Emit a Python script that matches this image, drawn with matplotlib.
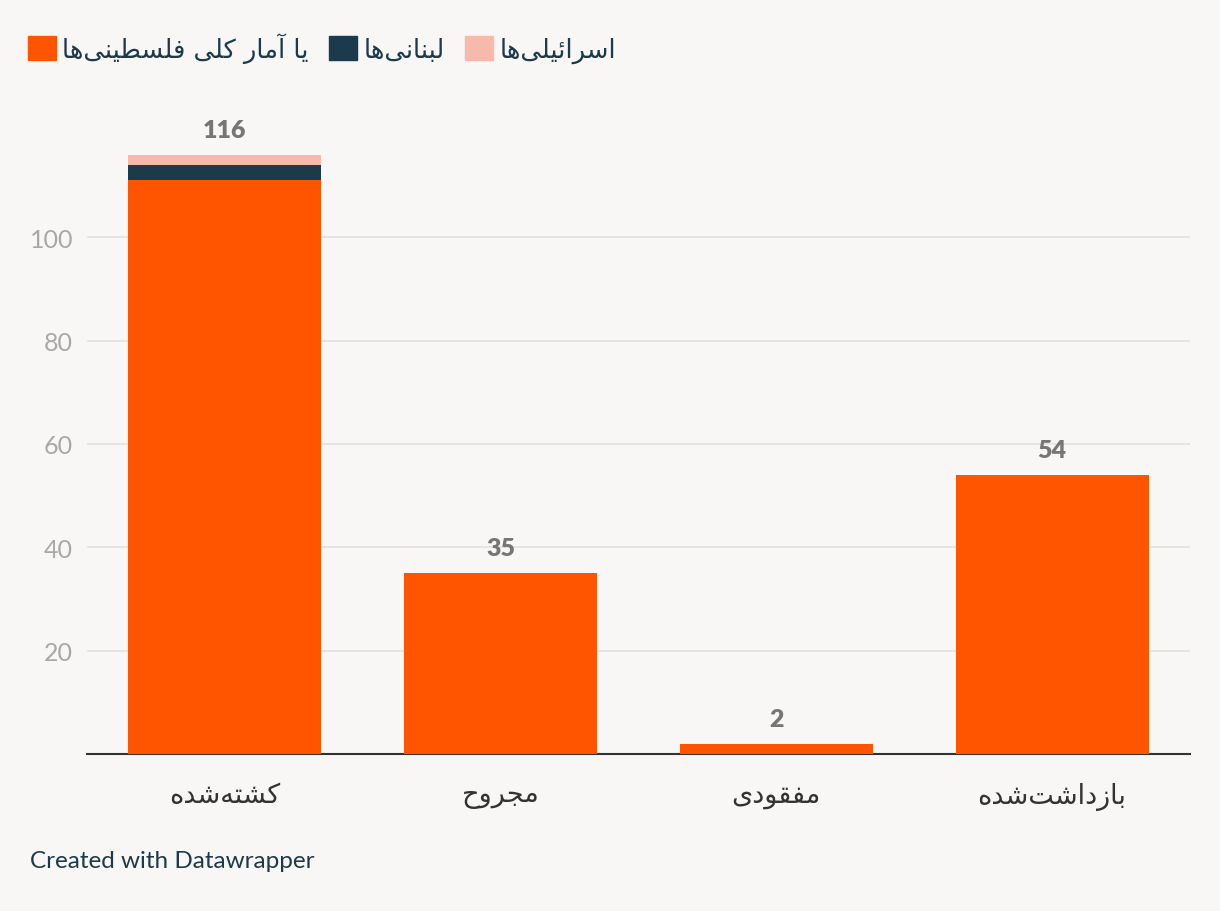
import numpy as np
import matplotlib.pyplot as plt
from matplotlib.patches import Patch

# data
categories = ["کشته‌شده", "مجروح", "مفقودی", "بازداشت‌شده"]
palestinians = [111, 35, 2, 54]
lebanese = [3, 0, 0, 0]
israelis = [2, 0, 0, 0]
series_names = ["یا آمار کلی فلسطینی‌ها", "لبنانی‌ها", "اسرائیلی‌ها"]
yticks = [20, 40, 60, 80, 100]

# Arabic/Persian presentation forms: (isolated, final, initial, medial)
FORMS = {
    '\u0627': (0xFE8D, 0xFE8E), '\u0622': (0xFE81, 0xFE82),
    '\u062F': (0xFEA9, 0xFEAA), '\u0631': (0xFEAD, 0xFEAE),
    '\u0632': (0xFEAF, 0xFEB0), '\u0648': (0xFEED, 0xFEEE),
    '\u0628': (0xFE8F, 0xFE90, 0xFE91, 0xFE92),
    '\u062A': (0xFE95, 0xFE96, 0xFE97, 0xFE98),
    '\u062C': (0xFE9D, 0xFE9E, 0xFE9F, 0xFEA0),
    '\u062D': (0xFEA1, 0xFEA2, 0xFEA3, 0xFEA4),
    '\u0633': (0xFEB1, 0xFEB2, 0xFEB3, 0xFEB4),
    '\u0634': (0xFEB5, 0xFEB6, 0xFEB7, 0xFEB8),
    '\u0637': (0xFEC1, 0xFEC2, 0xFEC3, 0xFEC4),
    '\u0641': (0xFED1, 0xFED2, 0xFED3, 0xFED4),
    '\u0642': (0xFED5, 0xFED6, 0xFED7, 0xFED8),
    '\u0644': (0xFEDD, 0xFEDE, 0xFEDF, 0xFEE0),
    '\u0645': (0xFEE1, 0xFEE2, 0xFEE3, 0xFEE4),
    '\u0646': (0xFEE5, 0xFEE6, 0xFEE7, 0xFEE8),
    '\u0647': (0xFEE9, 0xFEEA, 0xFEEB, 0xFEEC),
    '\u0626': (0xFE89, 0xFE8A, 0xFE8B, 0xFE8C),
    '\u06A9': (0xFB8E, 0xFB8F, 0xFB90, 0xFB91),
    '\u06CC': (0xFBFC, 0xFBFD, 0xFBFE, 0xFBFF),
}


def fa(s):
    # join letters and flip for left-to-right drawing
    out = []
    for i, ch in enumerate(s):
        if ch not in FORMS:
            if ch != '\u200c':
                out.append(ch)
            continue
        f = FORMS[ch]
        prev = s[i - 1] if i > 0 else ''
        nxt = s[i + 1] if i + 1 < len(s) else ''
        jp = prev in FORMS and len(FORMS[prev]) == 4
        jn = len(f) == 4 and nxt in FORMS
        out.append(chr(f[int(jp) + 2 * int(jn)]))
    return ''.join(out)[::-1]


plt.rcParams['font.family'] = ['Lato', 'DejaVu Sans']

bg = "#f8f7f5"
c_pal = "#ff5500"
c_leb = "#1b3a4b"
c_isr = "#f6b9aa"

fig = plt.figure(figsize=(12.2, 9.12), dpi=100, facecolor=bg)
ax = fig.add_axes([0.0713, 0.1721, 0.904, 0.680], facecolor=bg)

x = np.arange(len(categories))
pal = np.array(palestinians)
leb = np.array(lebanese)
isr = np.array(israelis)
ax.bar(x, pal, width=0.7, color=c_pal, zorder=3)
ax.bar(x, leb, width=0.7, bottom=pal, color=c_leb, zorder=3)
ax.bar(x, isr, width=0.7, bottom=pal + leb, color=c_isr, zorder=3)

totals = pal + leb + isr
for xi, t in zip(x, totals):
    ax.annotate(str(t), (xi, t), xytext=(0, 18), textcoords='offset points',
                ha='center', va='center', fontsize=18, fontweight='heavy',
                color="#767676")

ax.set_xlim(-0.5, 3.5)
ax.set_ylim(0, 120)
ax.set_yticks(yticks)
ax.grid(axis='y', color="#e2e2e2", linewidth=1.2, zorder=0)
ax.tick_params(axis='y', length=0, pad=10, labelsize=18, labelcolor="#a8a8a8")
ax.set_xticks(x)
ax.set_xticklabels([fa(c) for c in categories], fontsize=19.5, color="#333333",
                   family='DejaVu Sans')
ax.tick_params(axis='x', length=0, pad=20)
for s in ['top', 'right', 'left']:
    ax.spines[s].set_visible(False)
ax.spines['bottom'].set_color("#333333")
ax.spines['bottom'].set_linewidth(1.5)

handles = [Patch(color=c_pal), Patch(color=c_leb), Patch(color=c_isr)]
leg = fig.legend(handles, [fa(n) for n in series_names], ncol=3,
                 loc='center left', bbox_to_anchor=(0.004, 0.947),
                 frameon=False, handlelength=1.08, handleheight=1.08,
                 handletextpad=0.25, columnspacing=0.8,
                 prop={'family': 'DejaVu Sans', 'size': 18.5})
for t in leg.get_texts():
    t.set_color("#1b3a4b")

fig.text(0.0246, 1 - 862 / 912, "Created with Datawrapper", fontsize=17.5,
         color="#1b3a4b", va='center', ha='left')

plt.savefig("out.png", facecolor=bg)
